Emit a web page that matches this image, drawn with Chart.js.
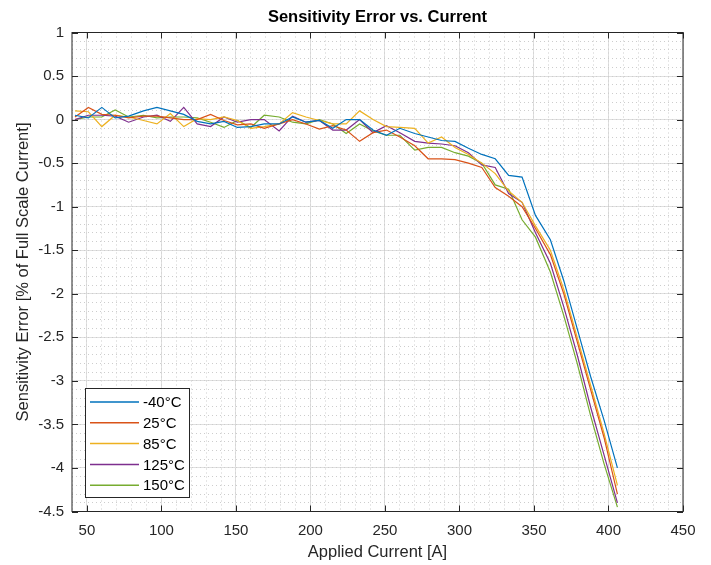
<!DOCTYPE html>
<html>
<head>
<meta charset="utf-8">
<script src="https://cdn.jsdelivr.net/npm/chart.js@4"></script>
<style>
  html, body { margin: 0; padding: 0; background: #fff; }
  #wrap { width: 711px; height: 565px; }
</style>
</head>
<body>
<div id="wrap"><canvas id="chart" width="711" height="565"></canvas></div>
<script>
// applied current [A]
const current = [42, 51, 60, 69, 78, 88, 97, 106, 115, 124, 133, 142, 151, 160, 169, 179, 188, 197, 206, 215,
  224, 233, 242, 251, 260, 270, 279, 288, 297, 306, 315, 324, 333, 342, 351, 361, 370, 379, 388, 397, 406];

const seriesNames = ['-40°C', '25°C', '85°C', '125°C', '150°C'];

// sensitivity error [% of full scale current]
const errM40 = [0.05, 0.02, 0.14, 0.02, 0.04, 0.10, 0.14, 0.10, 0.06, -0.02, -0.05, -0.02, -0.09, -0.08, -0.05, -0.05, 0.03, -0.03, -0.01, -0.10, 0.00, 0.00, -0.12,
  -0.18, -0.10, -0.16, -0.20, -0.24, -0.25, -0.33, -0.40, -0.45, -0.64, -0.66,
  -1.10, -1.38, -1.85, -2.40, -2.95, -3.45, -4.00];
const err25 = [0.03, 0.14, 0.06, 0.05, 0.02, 0.04, 0.04, 0.02, 0.00, 0.00, 0.06, -0.01, -0.06, -0.05, -0.10, -0.05, 0.00, -0.05, -0.11, -0.07, -0.12, -0.25, -0.15,
  -0.12, -0.20, -0.30, -0.45, -0.45, -0.46, -0.50, -0.55, -0.78, -0.88, -1.00,
  -1.25, -1.55, -2.00, -2.55, -3.10, -3.65, -4.30];
const err85 = [0.10, 0.09, -0.08, 0.05, 0.03, -0.01, -0.05, 0.07, -0.08, 0.01, 0.00, 0.03, -0.01, -0.10, -0.08, -0.05, 0.08, 0.03, -0.01, -0.05, -0.05, 0.10, 0.00,
  -0.08, -0.09, -0.10, -0.27, -0.20, -0.32, -0.40, -0.50, -0.62, -0.82, -0.95,
  -1.22, -1.50, -1.95, -2.50, -3.05, -3.60, -4.20];
const err125 = [0.00, 0.05, 0.05, 0.04, -0.03, 0.03, 0.05, -0.02, 0.14, -0.05, -0.08, 0.03, -0.03, 0.00, 0.00, -0.13, 0.04, -0.03, -0.01, -0.12, -0.12, 0.00, -0.15,
  -0.07, -0.15, -0.25, -0.27, -0.28, -0.30, -0.38, -0.52, -0.55, -0.85, -0.95,
  -1.30, -1.65, -2.15, -2.70, -3.30, -3.85, -4.40];
const err150 = [0.00, 0.03, 0.03, 0.11, 0.03, 0.05, 0.02, 0.03, 0.03, 0.02, -0.03, -0.09, -0.01, -0.09, 0.05, 0.03, -0.03, -0.05, 0.00, -0.05, -0.16, -0.05, -0.13,
  -0.18, -0.18, -0.35, -0.32, -0.32, -0.38, -0.42, -0.50, -0.75, -0.80, -1.15,
  -1.35, -1.75, -2.25, -2.80, -3.40, -3.95, -4.45];

const colors = ['#0072BD', '#D95319', '#EDB120', '#7E2F8E', '#77AC30'];
const allSeries = [errM40, err25, err85, err125, err150];

const FONT = "'Liberation Sans', Arial, Helvetica, sans-serif";
const AXIS_COLOR = '#262626';

// box round the plot, inward ticks on all four sides, title
const framePlugin = {
  id: 'frame',
  afterDraw(chart) {
    const { ctx, chartArea: a, scales } = chart;
    const tl = 6;
    ctx.save();
    ctx.strokeStyle = AXIS_COLOR;
    ctx.lineWidth = 1;
    ctx.strokeRect(a.left, a.top, a.right - a.left, a.bottom - a.top);
    ctx.beginPath();
    scales.x.ticks.forEach((t) => {
      const px = Math.round(scales.x.getPixelForValue(t.value)) + 0.5;
      ctx.moveTo(px, a.bottom); ctx.lineTo(px, a.bottom - tl);
      ctx.moveTo(px, a.top); ctx.lineTo(px, a.top + tl);
    });
    scales.y.ticks.forEach((t) => {
      const py = Math.round(scales.y.getPixelForValue(t.value)) + 0.5;
      ctx.moveTo(a.left, py); ctx.lineTo(a.left + tl, py);
      ctx.moveTo(a.right, py); ctx.lineTo(a.right - tl, py);
    });
    ctx.stroke();

    ctx.fillStyle = '#000';
    ctx.font = 'bold 16.5px ' + FONT;
    ctx.textAlign = 'center';
    ctx.textBaseline = 'middle';
    ctx.fillText('Sensitivity Error vs. Current', (a.left + a.right) / 2, 17);
    ctx.restore();
  },
};

// legend box in the lower left corner, matlab style
const legendPlugin = {
  id: 'boxLegend',
  afterDraw(chart) {
    const { ctx } = chart;
    const x0 = 85, y0 = 388, w = 104, h = 109;
    ctx.save();
    ctx.fillStyle = '#fff';
    ctx.fillRect(x0, y0, w, h);
    ctx.strokeStyle = AXIS_COLOR;
    ctx.lineWidth = 1;
    ctx.strokeRect(x0 + 0.5, y0 + 0.5, w, h);
    ctx.font = '15px ' + FONT;
    ctx.textBaseline = 'middle';
    ctx.textAlign = 'left';
    chart.data.datasets.forEach((ds, i) => {
      const y = y0 + 14 + i * 20.8;
      ctx.strokeStyle = ds.borderColor;
      ctx.lineWidth = 1.5;
      ctx.beginPath();
      ctx.moveTo(x0 + 5, y);
      ctx.lineTo(x0 + 54, y);
      ctx.stroke();
      ctx.fillStyle = '#000';
      ctx.fillText(ds.label, x0 + 58, y + 1);
    });
    ctx.restore();
  },
};

const datasets = seriesNames.map((name, i) => ({
  label: name,
  data: current.map((x, j) => ({ x, y: allSeries[i][j] })),
  borderColor: colors[i],
  backgroundColor: colors[i],
  borderWidth: 1.2,
  pointRadius: 0,
  tension: 0,
}));

const ctx = document.getElementById('chart').getContext('2d');
new Chart(ctx, {
  type: 'line',
  data: { datasets },
  options: {
    responsive: false,
    animation: false,
    layout: { padding: { top: 32.5, right: 28, left: 0, bottom: 0 } },
    plugins: {
      legend: { display: false },
      title: { display: false },
      tooltip: { enabled: false },
    },
    scales: {
      x: {
        type: 'linear',
        position: 'bottom',
        min: 40,
        max: 450,
        afterFit: (s) => { s.height = 53.5; },
        ticks: {
          stepSize: 50,
          includeBounds: false,
          padding: 10,
          color: '#262626',
          font: { family: FONT, size: 15 },
          maxRotation: 0,
        },
        grid: { color: '#dfdfdf', lineWidth: 1, drawTicks: false },
        border: { display: false },
        title: {
          display: true,
          text: 'Applied Current [A]',
          color: '#262626',
          font: { family: FONT, size: 16.5 },
          padding: { top: 0, bottom: 3 },
        },
      },
      y: {
        type: 'linear',
        position: 'left',
        min: -4.5,
        max: 1,
        afterFit: (s) => { s.width = 72; },
        ticks: {
          stepSize: 0.5,
          padding: 8,
          color: '#262626',
          font: { family: FONT, size: 15 },
          callback: (v) => String(Number(v.toFixed(1))),
        },
        grid: { color: '#dfdfdf', lineWidth: 1, drawTicks: false },
        border: { display: false },
        title: {
          display: true,
          text: 'Sensitivity Error [% of Full Scale Current]',
          color: '#262626',
          font: { family: FONT, size: 16.5 },
          padding: { top: 14, bottom: 0 },
        },
      },
      xMinor: {
        type: 'linear',
        position: 'bottom',
        min: 40,
        max: 450,
        afterFit: (s) => { s.height = 0; },
        ticks: { stepSize: 10, display: false },
        grid: { color: '#cdcdcd', lineWidth: 1, drawTicks: false },
        border: { display: false, dash: [1, 3] },
      },
      yMinor: {
        type: 'linear',
        position: 'left',
        min: -4.5,
        max: 1,
        afterFit: (s) => { s.width = 0; },
        ticks: { stepSize: 0.1, display: false },
        grid: { color: '#cdcdcd', lineWidth: 1, drawTicks: false },
        border: { display: false, dash: [1, 3] },
      },
    },
  },
  plugins: [framePlugin, legendPlugin],
});
</script>
</body>
</html>
